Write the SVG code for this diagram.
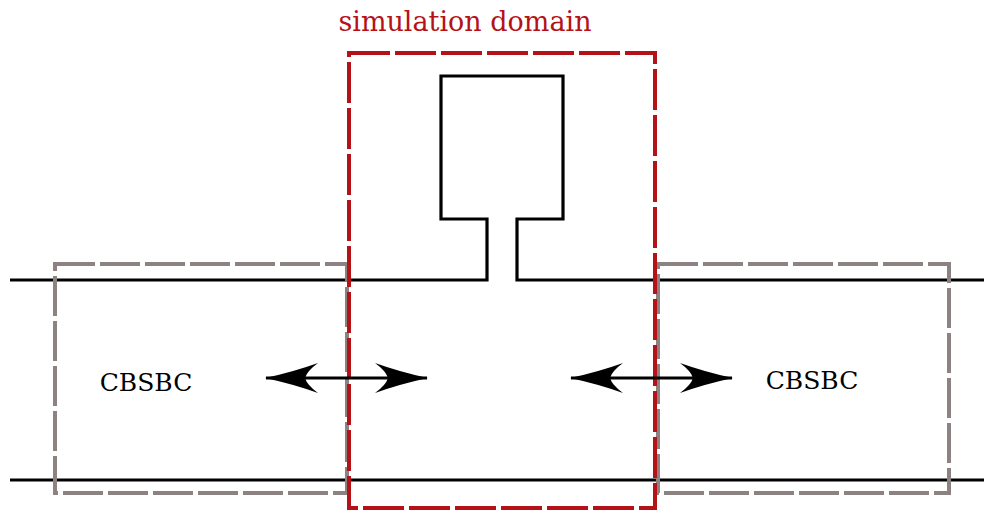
<svg xmlns="http://www.w3.org/2000/svg" width="984" height="511" viewBox="0 0 984 511">
<style>
.red{fill:none;stroke:#b51218;stroke-width:4;stroke-dasharray:41 5}
.gray{fill:none;stroke:#8c8282;stroke-width:4;stroke-dasharray:40 5}
.wall{fill:none;stroke:#000;stroke-width:3.2}
.arr{stroke:#000;stroke-width:2.8;marker-start:url(#ah);marker-end:url(#ah)}
.lbl{font-family:"DejaVu Serif","Liberation Serif",serif;font-size:25px;fill:#000}
</style>
<defs>
<marker id="ah" markerUnits="userSpaceOnUse" viewBox="-55 -16 56 32" refX="-1" refY="0" markerWidth="56" markerHeight="32" orient="auto-start-reverse">
<path d="M0,0 Q-28,-6 -53,-15 Q-42,-7 -40,0 Q-42,7 -53,15 Q-28,6 0,0 Z" fill="#000"/>
</marker>
</defs>
<g id="channel">
<path class="wall" d="M10,280 H487 V219 H441 V76 H563 V219 H517 V280 H984"/>
<path class="wall" d="M10,480 H984"/>
</g>
<g id="cbsbc-left">
<rect class="gray" x="55" y="264" width="292" height="229"/>
<text class="lbl" x="146" y="391" text-anchor="middle">CBSBC</text>
</g>
<g id="cbsbc-right">
<rect class="gray" x="658" y="264" width="291" height="229"/>
<text class="lbl" x="812" y="389" text-anchor="middle">CBSBC</text>
</g>
<g id="simulation-domain">
<rect class="red" x="349" y="53" width="306" height="455"/>
<text x="465" y="31" text-anchor="middle" style="font-family:'DejaVu Serif','Liberation Serif',serif;font-size:27px;fill:#b51218">simulation domain</text>
</g>
<g id="connectors">
<line class="arr" x1="266" y1="378" x2="427" y2="378"/>
<line class="arr" x1="571" y1="378" x2="732" y2="378"/>
</g>
</svg>
